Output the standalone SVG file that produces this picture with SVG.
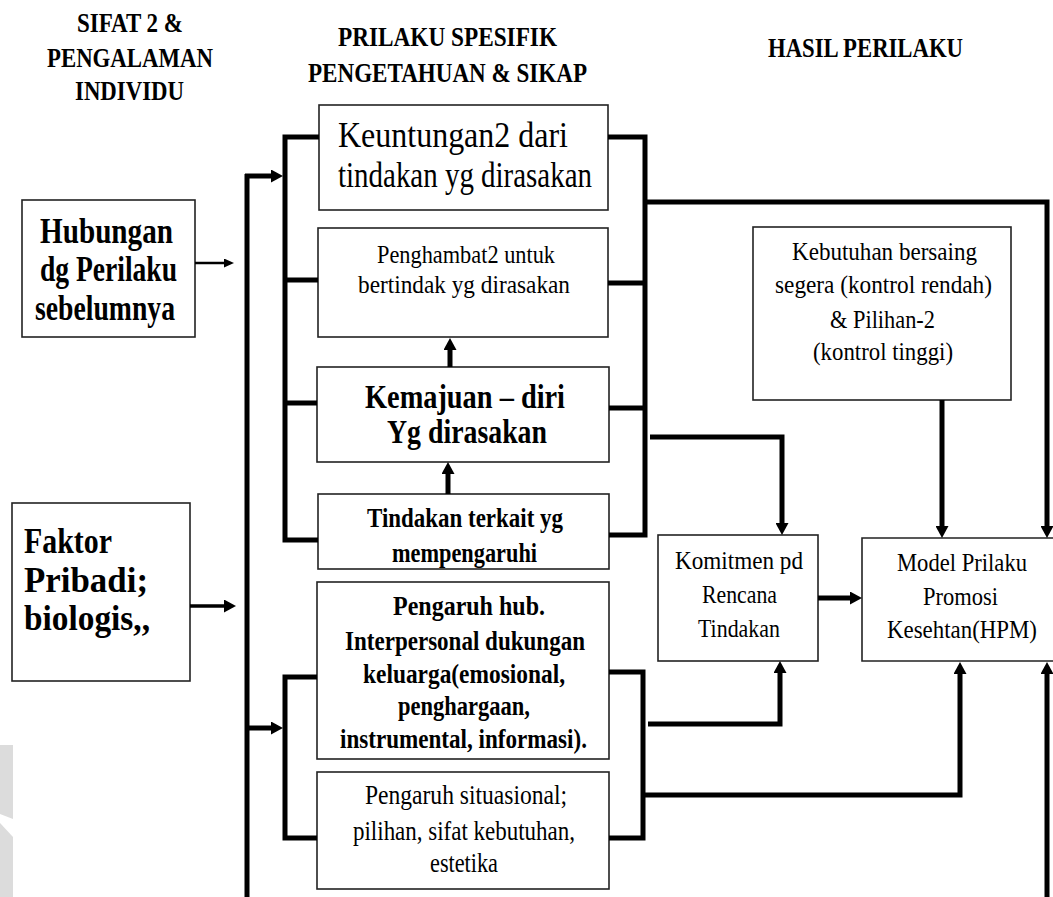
<svg xmlns="http://www.w3.org/2000/svg" width="1053" height="897" viewBox="0 0 1053 897">
<style>
.box{fill:#fff;stroke:#222;stroke-width:1.6}
text{font-family:"Liberation Serif","Times New Roman",serif;fill:#000}
.b{font-weight:bold}
.h{font-weight:bold;font-size:28px}
.c{fill:none;stroke:#000;stroke-width:5;stroke-linejoin:miter}
</style>
<defs>
<marker id="a" viewBox="0 0 12 13" markerWidth="12" markerHeight="13" markerUnits="userSpaceOnUse" refX="0" refY="6.5" orient="auto"><path d="M0,0 L12,6.5 L0,13 z" fill="#000"/></marker>
<marker id="s" viewBox="0 0 10 9" markerWidth="10" markerHeight="9" markerUnits="userSpaceOnUse" refX="0" refY="4.5" orient="auto"><path d="M0,0 L10,4.5 L0,9 z" fill="#000"/></marker>
</defs>
<rect width="1053" height="897" fill="#fff"/>
<g id="watermark" fill="#dcdcdc">
<polygon points="0,745 13,745 13,819 0,814"/>
<polygon points="0,823 13,837 13,897 0,897"/>
</g>
<g id="headers">
<text class="h" x="77" y="32" textLength="106" lengthAdjust="spacingAndGlyphs">SIFAT 2 &amp;</text>
<text class="h" x="47" y="67" textLength="166" lengthAdjust="spacingAndGlyphs">PENGALAMAN</text>
<text class="h" x="75" y="100" textLength="109" lengthAdjust="spacingAndGlyphs">INDIVIDU</text>
<text class="h" x="338" y="46" textLength="219" lengthAdjust="spacingAndGlyphs">PRILAKU SPESIFIK</text>
<text class="h" x="308" y="82" textLength="279" lengthAdjust="spacingAndGlyphs">PENGETAHUAN  &amp; SIKAP</text>
<text class="h" x="768" y="57" textLength="195" lengthAdjust="spacingAndGlyphs">HASIL PERILAKU</text>
</g>
<g id="hubungan">
<rect class="box" x="22" y="200" width="173" height="137"/>
<text class="b" font-size="36" x="40" y="243" textLength="133" lengthAdjust="spacingAndGlyphs">Hubungan</text>
<text class="b" font-size="36" x="40" y="281" textLength="137" lengthAdjust="spacingAndGlyphs">dg Perilaku</text>
<text class="b" font-size="36" x="35" y="320" textLength="140" lengthAdjust="spacingAndGlyphs">sebelumnya</text>
</g>
<g id="faktor">
<rect class="box" x="12" y="503" width="178" height="178"/>
<text class="b" font-size="35" x="24" y="553" textLength="88" lengthAdjust="spacingAndGlyphs">Faktor</text>
<text class="b" font-size="35" x="24" y="592" textLength="124" lengthAdjust="spacingAndGlyphs">Pribadi;</text>
<text class="b" font-size="35" x="24" y="630" textLength="126" lengthAdjust="spacingAndGlyphs">biologis,,</text>
</g>
<g id="keuntungan">
<rect class="box" x="319" y="105" width="289" height="105"/>
<text font-size="35" x="338" y="147" textLength="230" lengthAdjust="spacingAndGlyphs">Keuntungan2  dari</text>
<text font-size="35" x="338" y="187" textLength="254" lengthAdjust="spacingAndGlyphs">tindakan yg dirasakan</text>
</g>
<g id="penghambat">
<rect class="box" x="318" y="228" width="290" height="109"/>
<text font-size="26" x="377" y="263" textLength="178" lengthAdjust="spacingAndGlyphs">Penghambat2  untuk</text>
<text font-size="26" x="358" y="293" textLength="212" lengthAdjust="spacingAndGlyphs">bertindak  yg dirasakan</text>
</g>
<g id="kemajuan">
<rect class="box" x="317" y="367" width="292" height="95"/>
<text class="b" font-size="33" x="365" y="408" textLength="200" lengthAdjust="spacingAndGlyphs">Kemajuan – diri</text>
<text class="b" font-size="33" x="387" y="443" textLength="160" lengthAdjust="spacingAndGlyphs">Yg dirasakan</text>
</g>
<g id="tindakan">
<rect class="box" x="318" y="494" width="291" height="75"/>
<text class="b" font-size="28" x="367" y="527" textLength="196" lengthAdjust="spacingAndGlyphs">Tindakan terkait yg</text>
<text class="b" font-size="28" x="392" y="562" textLength="145" lengthAdjust="spacingAndGlyphs">mempengaruhi</text>
</g>
<g id="interpersonal">
<rect class="box" x="317" y="582" width="292" height="177"/>
<text class="b" font-size="28" x="393" y="615" textLength="152" lengthAdjust="spacingAndGlyphs">Pengaruh  hub.</text>
<text class="b" font-size="28" x="345" y="650" textLength="240" lengthAdjust="spacingAndGlyphs">Interpersonal  dukungan</text>
<text class="b" font-size="28" x="363" y="683" textLength="202" lengthAdjust="spacingAndGlyphs">keluarga(emosional,</text>
<text class="b" font-size="28" x="398" y="715" textLength="132" lengthAdjust="spacingAndGlyphs">penghargaan,</text>
<text class="b" font-size="28" x="340" y="748" textLength="247" lengthAdjust="spacingAndGlyphs">instrumental,  informasi).</text>
</g>
<g id="situasional">
<rect class="box" x="317" y="772" width="292" height="117"/>
<text font-size="27" x="365" y="804" textLength="202" lengthAdjust="spacingAndGlyphs">Pengaruh  situasional;</text>
<text font-size="27" x="353" y="840" textLength="222" lengthAdjust="spacingAndGlyphs">pilihan,  sifat  kebutuhan,</text>
<text font-size="27" x="430" y="872" textLength="68" lengthAdjust="spacingAndGlyphs">estetika</text>
</g>
<g id="kebutuhan">
<rect class="box" x="753" y="227" width="258" height="173"/>
<text font-size="25" x="792" y="260" textLength="185" lengthAdjust="spacingAndGlyphs">Kebutuhan  bersaing</text>
<text font-size="25" x="775" y="293" textLength="217" lengthAdjust="spacingAndGlyphs">segera (kontrol  rendah)</text>
<text font-size="25" x="830" y="328" textLength="105" lengthAdjust="spacingAndGlyphs">&amp; Pilihan-2</text>
<text font-size="25" x="813" y="360" textLength="140" lengthAdjust="spacingAndGlyphs">(kontrol tinggi)</text>
</g>
<g id="komitmen">
<rect class="box" x="658" y="535" width="160" height="126"/>
<text font-size="26" x="675" y="569" textLength="128" lengthAdjust="spacingAndGlyphs">Komitmen  pd</text>
<text font-size="26" x="702" y="603" textLength="75" lengthAdjust="spacingAndGlyphs">Rencana</text>
<text font-size="26" x="698" y="637" textLength="82" lengthAdjust="spacingAndGlyphs">Tindakan</text>
</g>
<g id="model">
<path class="box" d="M1053.5,538 H862 V661 H1053.5"/>
<text font-size="26" x="897" y="571" textLength="130" lengthAdjust="spacingAndGlyphs">Model Prilaku</text>
<text font-size="26" x="923" y="605" textLength="75" lengthAdjust="spacingAndGlyphs">Promosi</text>
<text font-size="26" x="887" y="638" textLength="150" lengthAdjust="spacingAndGlyphs">Kesehtan(HPM)</text>
</g>
<g id="connectors">
<path class="c" d="M247,174 V897"/>
<path class="c" d="M245,176 H271" marker-end="url(#a)"/>
<path class="c" d="M319,137 H285 V540 H318 M285,280 H318 M285,403 H317"/>
<path class="c" d="M608,137 H645 V535 H609 M608,283 H645 M609,408 H645"/>
<path class="c" d="M643,202 H1047 V526" marker-end="url(#a)"/>
<path class="c" d="M650,437 H782 V523" marker-end="url(#a)"/>
<path class="c" d="M942,400 V526" marker-end="url(#a)"/>
<path class="c" d="M317,677 H285 V838 H317"/>
<path class="c" d="M247,728 H271" marker-end="url(#a)"/>
<path class="c" d="M609,672 H643 V838 H609"/>
<path class="c" d="M648,724 H780 V673" marker-end="url(#a)"/>
<path class="c" d="M643,795 H960 V674" marker-end="url(#a)"/>
<path class="c" d="M1047,897 V674" marker-end="url(#a)"/>
<path class="c" d="M818,598 H850" marker-end="url(#a)"/>
<path class="c" d="M448,494 V474" marker-end="url(#a)"/>
<path class="c" d="M450,367 V350" marker-end="url(#a)"/>
<path class="c" style="stroke-width:2.5" d="M195,263 H224" marker-end="url(#s)"/>
<path class="c" style="stroke-width:3.5" d="M190,606 H224" marker-end="url(#a)"/>
</g>
</svg>
